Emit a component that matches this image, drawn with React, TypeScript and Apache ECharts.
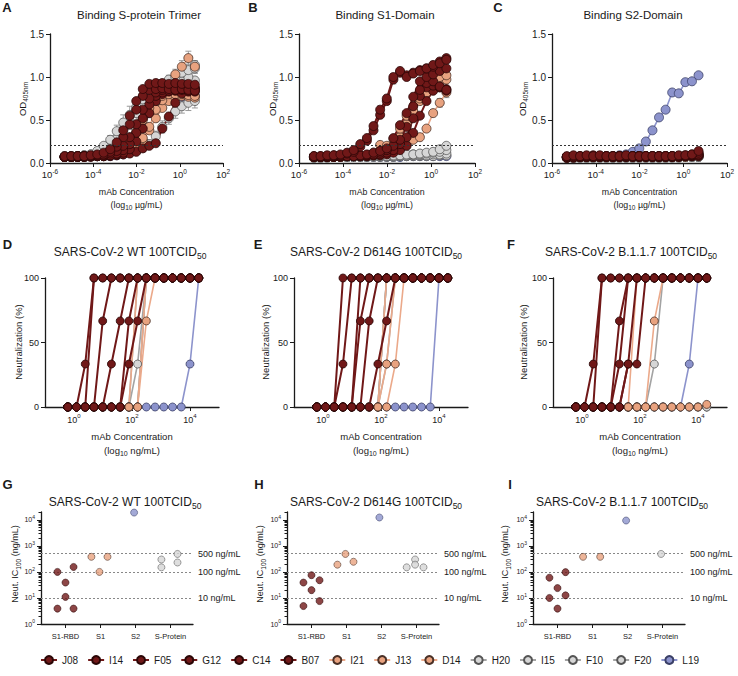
import { useEffect, useRef } from 'react';
import * as echarts from 'echarts';

const FONT = "'Liberation Sans', Arial, Helvetica, sans-serif";
const INK = '#1a1a1a';

const MABS = ['J08', 'I14', 'F05', 'G12', 'C14', 'B07', 'I21', 'J13', 'D14', 'H20', 'I15', 'F10', 'F20', 'L19'];
const MAB_GROUP = ['rbd', 'rbd', 'rbd', 'rbd', 'rbd', 'rbd', 's1', 's1', 's1', 'sp', 'sp', 'sp', 'sp', 's2'];

// binding: µg/mL, 2-fold dilutions
const BIND_CONC = [4.77e-6, 9.54e-6, 1.91e-5, 3.81e-5, 7.63e-5, 1.53e-4, 3.05e-4, 6.1e-4, 1.22e-3, 2.44e-3, 4.88e-3, 9.77e-3, 0.0195, 0.0391, 0.0781, 0.156, 0.3125, 0.625, 1.25, 2.5, 5];
// neutralization: ng/mL
const NEUT_CONC = [0.61, 1.22, 2.44, 4.88, 9.77, 19.5, 39.1, 78.1, 156, 312, 625, 1250, 2500, 5000, 10000, 20000];

const OD_TRIMER = [
  [0.08, 0.08, 0.08, 0.08, 0.09, 0.1, 0.12, 0.16, 0.24, 0.38, 0.55, 0.72, 0.86, 0.92, 0.93, 0.93, 0.92, 0.93, 0.92, 0.92, 0.91],
  [0.07, 0.08, 0.08, 0.08, 0.08, 0.09, 0.1, 0.13, 0.19, 0.3, 0.45, 0.62, 0.78, 0.85, 0.86, 0.87, 0.86, 0.85, 0.86, 0.85, 0.84],
  [0.07, 0.07, 0.08, 0.08, 0.08, 0.08, 0.09, 0.11, 0.14, 0.2, 0.3, 0.45, 0.62, 0.75, 0.82, 0.85, 0.87, 0.88, 0.9, 0.88, 0.87],
  [0.07, 0.07, 0.07, 0.08, 0.08, 0.08, 0.08, 0.09, 0.11, 0.15, 0.22, 0.35, 0.52, 0.68, 0.78, 0.82, 0.84, 0.85, 0.86, 0.86, 0.85],
  [0.07, 0.07, 0.07, 0.07, 0.08, 0.08, 0.08, 0.09, 0.1, 0.12, 0.16, 0.25, 0.4, 0.58, 0.72, 0.8, 0.83, 0.84, 0.85, 0.84, 0.83],
  [0.07, 0.07, 0.07, 0.07, 0.07, 0.08, 0.08, 0.08, 0.09, 0.1, 0.11, 0.13, 0.17, 0.2, 0.23, 0.4, 0.54, 0.7, 0.81, 0.83, 0.87],
  [0.07, 0.07, 0.08, 0.08, 0.08, 0.08, 0.09, 0.1, 0.13, 0.18, 0.25, 0.36, 0.5, 0.64, 0.74, 0.78, 0.8, 0.8, 0.8, 0.79, 0.78],
  [0.07, 0.07, 0.07, 0.08, 0.08, 0.08, 0.08, 0.09, 0.1, 0.12, 0.17, 0.22, 0.29, 0.42, 0.62, 0.73, 0.83, 1.03, 1.12, 1.22, 1.12],
  [0.07, 0.07, 0.07, 0.07, 0.08, 0.08, 0.08, 0.09, 0.1, 0.11, 0.14, 0.18, 0.26, 0.38, 0.52, 0.64, 0.72, 0.76, 0.78, 0.77, 0.76],
  [0.08, 0.08, 0.08, 0.09, 0.1, 0.14, 0.2, 0.27, 0.37, 0.47, 0.56, 0.65, 0.74, 0.82, 0.88, 0.92, 0.97, 1.0, 1.05, 1.08, 1.1],
  [0.08, 0.08, 0.08, 0.09, 0.1, 0.12, 0.16, 0.21, 0.28, 0.38, 0.48, 0.58, 0.68, 0.76, 0.82, 0.86, 0.9, 0.92, 0.95, 1.0, 1.14],
  [0.07, 0.07, 0.08, 0.08, 0.08, 0.09, 0.1, 0.12, 0.16, 0.22, 0.3, 0.4, 0.52, 0.62, 0.7, 0.75, 0.78, 0.8, 0.84, 0.9, 0.96],
  [0.07, 0.07, 0.07, 0.08, 0.08, 0.08, 0.08, 0.09, 0.1, 0.11, 0.13, 0.15, 0.18, 0.22, 0.31, 0.42, 0.52, 0.6, 0.66, 0.7, 0.72],
  [0.07, 0.07, 0.07, 0.07, 0.08, 0.08, 0.08, 0.08, 0.09, 0.1, 0.14, 0.24, 0.42, 0.58, 0.68, 0.73, 0.75, 0.76, 0.77, 0.78, 0.78],
];

const OD_S1 = [
  [0.08, 0.08, 0.09, 0.09, 0.1, 0.12, 0.15, 0.22, 0.29, 0.43, 0.62, 0.75, 1.0, 1.07, 1.0, 1.04, 1.07, 1.1, 1.14, 1.16, 1.2],
  [0.08, 0.08, 0.08, 0.09, 0.09, 0.11, 0.13, 0.19, 0.26, 0.38, 0.56, 0.72, 0.97, 1.05, 1.02, 1.05, 1.08, 1.1, 1.12, 1.18, 1.22],
  [0.07, 0.07, 0.08, 0.08, 0.08, 0.08, 0.08, 0.09, 0.1, 0.12, 0.14, 0.17, 0.29, 0.44, 0.58, 0.77, 0.95, 1.0, 1.03, 1.07, 1.1],
  [0.07, 0.07, 0.07, 0.08, 0.08, 0.08, 0.08, 0.08, 0.09, 0.1, 0.12, 0.15, 0.2, 0.27, 0.42, 0.66, 0.85, 0.93, 0.95, 0.89, 0.85],
  [0.07, 0.07, 0.07, 0.07, 0.08, 0.08, 0.08, 0.08, 0.08, 0.09, 0.1, 0.12, 0.15, 0.22, 0.3, 0.52, 0.78, 0.88, 0.9, 0.88, 0.84],
  [0.07, 0.07, 0.07, 0.07, 0.07, 0.08, 0.08, 0.08, 0.08, 0.09, 0.09, 0.1, 0.12, 0.15, 0.2, 0.35, 0.55, 0.72, 0.84, 0.88, 0.86],
  [0.07, 0.07, 0.07, 0.08, 0.08, 0.08, 0.08, 0.08, 0.09, 0.1, 0.14, 0.2, 0.28, 0.4, 0.55, 0.6, 0.75, 0.9, 0.98, 1.0, 1.02],
  [0.07, 0.07, 0.07, 0.07, 0.08, 0.08, 0.08, 0.08, 0.09, 0.12, 0.21, 0.18, 0.22, 0.3, 0.45, 0.6, 0.72, 0.82, 0.9, 0.95, 0.97],
  [0.07, 0.07, 0.07, 0.07, 0.07, 0.08, 0.08, 0.08, 0.08, 0.09, 0.1, 0.12, 0.15, 0.18, 0.22, 0.27, 0.3, 0.4, 0.58, 0.7, 0.82],
  [0.07, 0.07, 0.07, 0.07, 0.07, 0.07, 0.08, 0.08, 0.08, 0.08, 0.08, 0.08, 0.09, 0.09, 0.1, 0.1, 0.11, 0.12, 0.13, 0.16, 0.2],
  [0.07, 0.07, 0.07, 0.07, 0.07, 0.07, 0.07, 0.08, 0.08, 0.08, 0.08, 0.08, 0.08, 0.09, 0.09, 0.1, 0.1, 0.11, 0.12, 0.13, 0.15],
  [0.06, 0.06, 0.07, 0.07, 0.07, 0.07, 0.07, 0.07, 0.07, 0.08, 0.08, 0.08, 0.08, 0.08, 0.08, 0.09, 0.09, 0.09, 0.1, 0.1, 0.11],
  [0.06, 0.06, 0.06, 0.07, 0.07, 0.07, 0.07, 0.07, 0.07, 0.07, 0.07, 0.07, 0.07, 0.08, 0.08, 0.08, 0.08, 0.08, 0.08, 0.09, 0.09],
  [0.07, 0.07, 0.07, 0.07, 0.07, 0.07, 0.07, 0.07, 0.07, 0.07, 0.07, 0.07, 0.07, 0.07, 0.08, 0.08, 0.08, 0.08, 0.08, 0.08, 0.08],
];

const OD_S2 = [
  [0.08, 0.09, 0.08, 0.09, 0.08, 0.09, 0.08, 0.08, 0.08, 0.09, 0.08, 0.08, 0.08, 0.08, 0.08, 0.08, 0.08, 0.09, 0.09, 0.1, 0.14],
  [0.07, 0.08, 0.08, 0.08, 0.09, 0.08, 0.08, 0.08, 0.08, 0.08, 0.08, 0.08, 0.08, 0.08, 0.08, 0.08, 0.08, 0.08, 0.09, 0.1, 0.12],
  [0.07, 0.07, 0.07, 0.08, 0.08, 0.08, 0.08, 0.08, 0.08, 0.08, 0.08, 0.08, 0.08, 0.08, 0.08, 0.08, 0.08, 0.08, 0.08, 0.09, 0.1],
  [0.07, 0.07, 0.07, 0.07, 0.07, 0.07, 0.07, 0.07, 0.08, 0.08, 0.08, 0.08, 0.08, 0.08, 0.08, 0.08, 0.08, 0.08, 0.08, 0.09, 0.11],
  [0.06, 0.07, 0.07, 0.07, 0.07, 0.07, 0.07, 0.07, 0.07, 0.07, 0.07, 0.07, 0.07, 0.07, 0.07, 0.07, 0.07, 0.08, 0.08, 0.08, 0.09],
  [0.06, 0.06, 0.07, 0.07, 0.07, 0.07, 0.07, 0.07, 0.07, 0.07, 0.07, 0.07, 0.07, 0.07, 0.07, 0.07, 0.07, 0.07, 0.08, 0.08, 0.08],
  [0.07, 0.07, 0.08, 0.08, 0.08, 0.08, 0.08, 0.08, 0.08, 0.08, 0.08, 0.08, 0.08, 0.08, 0.08, 0.08, 0.08, 0.08, 0.08, 0.09, 0.1],
  [0.07, 0.07, 0.07, 0.07, 0.07, 0.07, 0.07, 0.07, 0.07, 0.07, 0.08, 0.08, 0.08, 0.07, 0.07, 0.07, 0.07, 0.08, 0.08, 0.08, 0.09],
  [0.07, 0.07, 0.07, 0.07, 0.07, 0.07, 0.07, 0.07, 0.07, 0.07, 0.07, 0.07, 0.07, 0.07, 0.07, 0.07, 0.07, 0.07, 0.07, 0.08, 0.08],
  [0.07, 0.07, 0.07, 0.07, 0.07, 0.07, 0.07, 0.07, 0.07, 0.07, 0.07, 0.07, 0.07, 0.07, 0.07, 0.07, 0.07, 0.07, 0.07, 0.07, 0.08],
  [0.07, 0.07, 0.07, 0.07, 0.07, 0.07, 0.07, 0.07, 0.07, 0.07, 0.07, 0.07, 0.07, 0.07, 0.07, 0.07, 0.07, 0.07, 0.07, 0.07, 0.07],
  [0.06, 0.06, 0.06, 0.06, 0.06, 0.06, 0.06, 0.06, 0.06, 0.06, 0.06, 0.06, 0.06, 0.06, 0.06, 0.06, 0.07, 0.07, 0.07, 0.07, 0.07],
  [0.06, 0.06, 0.06, 0.06, 0.06, 0.06, 0.06, 0.06, 0.06, 0.06, 0.06, 0.06, 0.06, 0.06, 0.06, 0.06, 0.06, 0.06, 0.07, 0.07, 0.07],
  [0.07, 0.08, 0.07, 0.08, 0.08, 0.08, 0.08, 0.08, 0.09, 0.1, 0.13, 0.17, 0.25, 0.38, 0.53, 0.62, 0.82, 0.81, 0.94, 0.95, 1.02],
];

// standard deviations drawn as error bars (only where the reference shows them clearly)
const SD_TRIMER_H20 = [0, 0, 0, 0, 0.01, 0.02, 0.03, 0.05, 0.07, 0.09, 0.1, 0.09, 0.07, 0.06, 0.05, 0.05, 0.05, 0.05, 0.06, 0.07, 0.06];
const SD_TRIMER_I15 = [0, 0, 0, 0, 0.01, 0.02, 0.03, 0.04, 0.06, 0.08, 0.09, 0.08, 0.07, 0.06, 0.06, 0.07, 0.06, 0.05, 0.06, 0.06, 0.05];
const SD_TRIMER_F20 = [0, 0, 0, 0, 0, 0, 0, 0.01, 0.01, 0.02, 0.03, 0.03, 0.04, 0.05, 0.06, 0.07, 0.07, 0.08, 0.08, 0.09, 0.08];
const SD_TRIMER_J13 = [0, 0, 0, 0, 0, 0, 0, 0.01, 0.01, 0.02, 0.03, 0.03, 0.04, 0.05, 0.05, 0.05, 0.05, 0.06, 0.07, 0.08, 0.06];
const SD_S1_J08 = [0, 0, 0, 0, 0.01, 0.01, 0.02, 0.02, 0.03, 0.03, 0.04, 0.04, 0.04, 0.03, 0.03, 0.03, 0.03, 0.04, 0.04, 0.04, 0.04];
const SD_S1_I14 = [0, 0, 0, 0, 0.01, 0.01, 0.02, 0.02, 0.02, 0.03, 0.04, 0.04, 0.05, 0.04, 0.03, 0.03, 0.03, 0.03, 0.04, 0.04, 0.04];
const SD_S1_D14 = [0, 0, 0, 0, 0, 0, 0, 0, 0, 0, 0.01, 0.01, 0.02, 0.02, 0.02, 0.02, 0.03, 0.03, 0.04, 0.05, 0.06];

const NEUT_WT = [
  [0, 0, 33.3, 100, 100, 100, 100, 100, 100, 100, 100, 100, 100, 100, 100, 100],
  [0, 0, 0, 100, 100, 100, 100, 100, 100, 100, 100, 100, 100, 100, 100, 100],
  [0, 0, 0, 0, 66.7, 100, 100, 100, 100, 100, 100, 100, 100, 100, 100, 100],
  [0, 0, 0, 0, 0, 33.3, 66.7, 100, 100, 100, 100, 100, 100, 100, 100, 100],
  [0, 0, 0, 0, 0, 0, 0, 66.7, 100, 100, 100, 100, 100, 100, 100, 100],
  [0, 0, 0, 0, 0, 0, 0, 33.3, 66.7, 100, 100, 100, 100, 100, 100, 100],
  [0, 0, 0, 0, 0, 0, 0, 0, 100, 100, 100, 100, 100, 100, 100, 100],
  [0, 0, 0, 0, 0, 0, 0, 0, 0, 66.7, 100, 100, 100, 100, 100, 100],
  [0, 0, 0, 0, 0, 0, 0, 0, 0, 100, 100, 100, 100, 100, 100, 100],
  [0, 0, 0, 0, 0, 0, 0, 0, 33.3, 100, 100, 100, 100, 100, 100, 100],
  [0, 0, 0, 0, 0, 0, 0, 0, 100, 100, 100, 100, 100, 100, 100, 100],
  [0, 0, 0, 0, 0, 0, 0, 0, 0, 100, 100, 100, 100, 100, 100, 100],
  [0, 0, 0, 0, 0, 0, 0, 0, 0, 100, 100, 100, 100, 100, 100, 100],
  [0, 0, 0, 0, 0, 0, 0, 0, 0, 0, 0, 0, 0, 0, 33.3, 100],
];

const NEUT_D614G = [
  [0, 0, 0, 100, 100, 100, 100, 100, 100, 100, 100, 100, 100, 100, 100, 100],
  [0, 0, 0, 33.3, 100, 100, 100, 100, 100, 100, 100, 100, 100, 100, 100, 100],
  [0, 0, 0, 0, 0, 66.7, 100, 100, 100, 100, 100, 100, 100, 100, 100, 100],
  [0, 0, 0, 0, 0, 100, 100, 100, 100, 100, 100, 100, 100, 100, 100, 100],
  [0, 0, 0, 0, 0, 0, 66.7, 100, 100, 100, 100, 100, 100, 100, 100, 100],
  [0, 0, 0, 0, 0, 0, 0, 33.3, 66.7, 100, 100, 100, 100, 100, 100, 100],
  [0, 0, 0, 0, 0, 0, 0, 0, 33.3, 100, 100, 100, 100, 100, 100, 100],
  [0, 0, 0, 0, 0, 0, 0, 0, 0, 33.3, 100, 100, 100, 100, 100, 100],
  [0, 0, 0, 0, 0, 0, 0, 0, 100, 100, 100, 100, 100, 100, 100, 100],
  [0, 0, 0, 0, 0, 0, 0, 0, 100, 100, 100, 100, 100, 100, 100, 100],
  [0, 0, 0, 0, 0, 0, 0, 0, 100, 100, 100, 100, 100, 100, 100, 100],
  [0, 0, 0, 0, 0, 0, 0, 0, 33.3, 100, 100, 100, 100, 100, 100, 100],
  [0, 0, 0, 0, 0, 0, 0, 0, 100, 100, 100, 100, 100, 100, 100, 100],
  [0, 0, 0, 0, 0, 0, 0, 0, 0, 0, 0, 0, 0, 0, 100, 100],
];

const NEUT_B117 = [
  [0, 0, 33.3, 100, 100, 100, 100, 100, 100, 100, 100, 100, 100, 100, 100, 100],
  [0, 0, 0, 100, 100, 100, 100, 100, 100, 100, 100, 100, 100, 100, 100, 100],
  [0, 0, 0, 0, 0, 66.7, 100, 100, 100, 100, 100, 100, 100, 100, 100, 100],
  [0, 0, 0, 0, 0, 33.3, 100, 100, 100, 100, 100, 100, 100, 100, 100, 100],
  [0, 0, 0, 0, 0, 0, 33.3, 100, 100, 100, 100, 100, 100, 100, 100, 100],
  [0, 0, 0, 0, 0, 0, 33.3, 33.3, 100, 100, 100, 100, 100, 100, 100, 100],
  [0, 0, 0, 0, 0, 0, 0, 100, 100, 100, 100, 100, 100, 100, 100, 100],
  [0, 0, 0, 0, 0, 0, 0, 0, 0, 66.7, 100, 100, 100, 100, 100, 100],
  [0, 0, 0, 0, 0, 0, 0, 0, 0, 0, 0, 0, 0, 0, 0, 2],
  [0, 0, 0, 0, 0, 0, 0, 0, 0, 33.3, 100, 100, 100, 100, 100, 100],
  [0, 0, 0, 0, 0, 0, 0, 0, 0, 0, 0, 0, 0, 0, 0, 0],
  [0, 0, 0, 0, 0, 0, 0, 0, 0, 0, 0, 0, 0, 0, 0, 0],
  [0, 0, 0, 0, 0, 0, 0, 0, 0, 0, 0, 0, 0, 0, 0, 0],
  [0, 0, 0, 0, 0, 0, 0, 0, 0, 0, 0, 0, 0, 33.3, 100, 100],
];

// IC100 (ng/mL) per epitope group
const IC_CATEGORIES = ['S1-RBD', 'S1', 'S2', 'S-Protein'];
const IC_WT_RBD = [100, 39, 155, 11, 3.9, 3.9];
const IC_WT_S1 = [380, 100, 380];
const IC_WT_S2 = [19000];
const IC_WT_SP = [300, 150, 490, 230];
const IC_D614G_RBD = [39, 75, 48, 20, 4.9, 7.6];
const IC_D614G_S1 = [190, 490, 245];
const IC_D614G_S2 = [12300];
const IC_D614G_SP = [150, 300, 190, 150];
const IC_B117_RBD = [60, 24, 98, 10, 12.6, 3.9];
const IC_B117_S1 = [380, 380];
const IC_B117_S2 = [9400];
const IC_B117_SP = [490];

const REF_LINES = [10, 100, 500];
const REF_LABELS = ['10 ng/mL', '100 ng/mL', '500 ng/mL'];
const OD_CUTOFF = 0.21;

const BIND_TICKS = [1e-6, 1e-4, 1e-2, 1, 100];
const NEUT_TICKS = [1, 100, 10000];
const IC_TICKS = [1, 10, 100, 1000, 10000];
const IC_MINOR = [2, 3, 4, 5, 6, 7, 8, 9, 20, 30, 40, 50, 60, 70, 80, 90, 200, 300, 400, 500, 600, 700, 800, 900, 2000, 3000, 4000, 5000, 6000, 7000, 8000, 9000, 20000];

// layout-only horizontal spread of dots within a category
const JIT_WT = { rbd: [-0.23, 0, 0.23, 0, -0.23, 0.23], s1: [-0.26, -0.03, 0.2], s2: [-0.04], sp: [-0.26, -0.26, 0.2, 0.2] };
const JIT_D614G = { rbd: [-0.23, 0, 0.23, 0, -0.23, 0.23], s1: [-0.26, -0.03, 0.2], s2: [-0.06], sp: [-0.28, -0.04, -0.04, 0.2] };
const JIT_B117 = { rbd: [-0.23, 0, 0.23, -0.23, 0.23, 0], s1: [-0.27, 0.22], s2: [-0.04], sp: [-0.04] };

const FILL: Record<string, string> = { rbd: '#701818', s1: '#E8A27F', sp: '#D6D6D6', s2: '#8C93CC' };
const LINE: Record<string, string> = { rbd: '#701818', s1: '#EBA98A', sp: '#A3A3A3', s2: '#8C93CC' };
const BORDER: Record<string, string> = { rbd: '#2a0606', s1: '#4a3026', sp: '#555555', s2: '#3a3f66' };

const tok = (size: number, extra: any = {}) => ({ fontSize: size, fontFamily: FONT, color: INK, ...extra });
const subRich = (main: number, sub: number) => ({
  a: tok(main, { lineHeight: main + 4 }),
  b: tok(sub, { lineHeight: sub, verticalAlign: 'bottom' }),
});
const supRich = (main: number, sup: number) => ({
  a: tok(main, { lineHeight: main + 4 }),
  b: tok(sup, { lineHeight: sup, verticalAlign: 'top' }),
});

function gText(x: number, y: number, text: string, size: number, opt: any = {}) {
  return {
    type: 'text',
    x,
    y,
    rotation: opt.rot || 0,
    silent: true,
    z: 100,
    style: {
      text,
      fill: INK,
      font: `${opt.bold ? 'bold ' : ''}${size}px ${FONT}`,
      align: 'center',
      verticalAlign: 'middle',
      textAlign: 'center',
      textVerticalAlign: 'middle',
      rich: opt.rich,
    },
  };
}

const axisLine = { show: true, onZero: false, lineStyle: { color: INK, width: 1.3 } };
const tickStyle = { color: INK, width: 1 };

function errorBarSeries(gi: number, means: number[], sds: number[]) {
  return {
    type: 'custom', xAxisIndex: gi, yAxisIndex: gi, silent: true, z: 1, clip: false,
    data: BIND_CONC.map((c, i) => [c, means[i], sds[i]]).filter((d) => d[2] > 0),
    encode: { x: 0, y: 1 },
    renderItem: (params: any, api: any) => {
      const x = api.value(0);
      const y = api.value(1);
      const sd = api.value(2);
      const top = api.coord([x, y + sd]);
      const bot = api.coord([x, y - sd]);
      const st = { stroke: '#9a9a9a', lineWidth: 1 };
      return {
        type: 'group',
        children: [
          { type: 'line', shape: { x1: top[0], y1: top[1], x2: bot[0], y2: bot[1] }, style: st },
          { type: 'line', shape: { x1: top[0] - 3, y1: top[1], x2: top[0] + 3, y2: top[1] }, style: st },
          { type: 'line', shape: { x1: bot[0] - 3, y1: bot[1], x2: bot[0] + 3, y2: bot[1] }, style: st },
        ],
      };
    },
  };
}

function buildOption() {
  const grids = [
    { left: 50, top: 34, width: 173, height: 129 },
    { left: 299, top: 34, width: 176, height: 129 },
    { left: 552, top: 34, width: 175, height: 129 },
    { left: 45, top: 278, width: 174, height: 129 },
    { left: 294, top: 278, width: 174, height: 129 },
    { left: 553, top: 278, width: 174, height: 129 },
    { left: 41, top: 512, width: 152, height: 112 },
    { left: 287, top: 512, width: 152, height: 112 },
    { left: 533, top: 512, width: 152, height: 112 },
  ].map((g) => ({ ...g, containLabel: false, outerBoundsMode: 'none' }));

  const xAxis: any[] = [];
  const yAxis: any[] = [];
  const expFmt = (v: number) => `{a|10}{b|${Math.round(Math.log10(v))}}`;

  for (let i = 0; i < 3; i++) {
    xAxis.push({
      type: 'log', gridIndex: i, min: 1e-6, max: 100, axisLine,
      axisTick: { show: true, length: 4, lineStyle: tickStyle, customValues: BIND_TICKS },
      axisLabel: { customValues: BIND_TICKS, margin: 5, formatter: expFmt, rich: supRich(9.5, 6.5) },
      splitLine: { show: false }, minorTick: { show: false },
    });
    yAxis.push({
      type: 'value', gridIndex: i, min: 0, max: 1.5, interval: 0.5, axisLine,
      axisTick: { show: true, length: 4, lineStyle: tickStyle },
      axisLabel: { margin: 6, fontSize: 10, fontFamily: FONT, color: INK, formatter: (v: number) => v.toFixed(1) },
      splitLine: { show: false },
    });
  }
  for (let i = 3; i < 6; i++) {
    xAxis.push({
      type: 'log', gridIndex: i, min: 0.1, max: 100000, axisLine,
      axisTick: { show: true, length: 4, lineStyle: tickStyle, customValues: NEUT_TICKS },
      axisLabel: { customValues: NEUT_TICKS, margin: 6, formatter: expFmt, rich: supRich(9, 6) },
      splitLine: { show: false }, minorTick: { show: false },
    });
    yAxis.push({
      type: 'value', gridIndex: i, min: 0, max: 100, interval: 50, axisLine,
      axisTick: { show: true, length: 4, lineStyle: tickStyle },
      axisLabel: { margin: 6, fontSize: 9, fontFamily: FONT, color: INK },
      splitLine: { show: false },
    });
  }
  for (let i = 6; i < 9; i++) {
    xAxis.push({
      type: 'value', gridIndex: i, min: 0.3, max: 4.643, axisLine,
      axisTick: { show: true, length: 4, lineStyle: tickStyle, customValues: [1, 2, 3, 4] },
      axisLabel: {
        customValues: [1, 2, 3, 4], margin: 8, fontSize: 7.5, fontFamily: FONT, color: INK,
        formatter: (v: number) => IC_CATEGORIES[Math.round(v) - 1] || '',
      },
      splitLine: { show: false },
    });
    yAxis.push({
      type: 'log', gridIndex: i, min: 1, max: 20000, position: 'left', axisLine,
      axisTick: { show: true, length: 4, lineStyle: tickStyle, customValues: IC_TICKS },
      axisLabel: { customValues: IC_TICKS, margin: 6, formatter: expFmt, rich: supRich(7, 5) },
      splitLine: { show: false }, minorTick: { show: false },
    });
  }
  for (let i = 6; i < 9; i++) {
    yAxis.push({
      type: 'log', gridIndex: i, min: 1, max: 20000, position: 'left', offset: 0,
      axisLine: { show: false },
      axisTick: { show: true, length: 2.5, lineStyle: tickStyle, customValues: IC_MINOR },
      axisLabel: { show: false },
      splitLine: { show: false }, minorTick: { show: false },
    });
  }

  const series: any[] = [];

  series.push(errorBarSeries(0, OD_TRIMER[9], SD_TRIMER_H20));
  series.push(errorBarSeries(0, OD_TRIMER[10], SD_TRIMER_I15));
  series.push(errorBarSeries(0, OD_TRIMER[12], SD_TRIMER_F20));
  series.push(errorBarSeries(0, OD_TRIMER[7], SD_TRIMER_J13));
  series.push(errorBarSeries(1, OD_S1[0], SD_S1_J08));
  series.push(errorBarSeries(1, OD_S1[1], SD_S1_I14));
  series.push(errorBarSeries(1, OD_S1[8], SD_S1_D14));

  const lineSets = [
    { sets: [OD_TRIMER, OD_S1, OD_S2], conc: BIND_CONC, base: 0, size: 9, cutoff: true },
    { sets: [NEUT_WT, NEUT_D614G, NEUT_B117], conc: NEUT_CONC, base: 3, size: 8, cutoff: false },
  ];
  lineSets.forEach(({ sets, conc, base, size, cutoff }) => {
    sets.forEach((set, k) => {
      const gi = base + k;
      for (let m = MABS.length - 1; m >= 0; m--) {
        const g = MAB_GROUP[m];
        const s: any = {
          type: 'line', name: MABS[m], xAxisIndex: gi, yAxisIndex: gi,
          data: conc.map((c, i) => [c, set[m][i]]),
          symbol: 'circle', symbolSize: size, clip: false, silent: true,
          lineStyle: { color: LINE[g], width: g === 'rbd' ? 2 : 1.6 },
          itemStyle: { color: FILL[g], borderColor: BORDER[g], borderWidth: 0.8 },
          emphasis: { disabled: true },
        };
        if (cutoff && m === MABS.length - 1) {
          s.markLine = {
            silent: true, symbol: 'none', label: { show: false },
            lineStyle: { type: [2, 2], color: '#333', width: 1 },
            data: [{ yAxis: OD_CUTOFF }],
          };
        }
        series.push(s);
      }
    });
  });

  const icPanels = [
    { rbd: IC_WT_RBD, s1: IC_WT_S1, s2: IC_WT_S2, sp: IC_WT_SP, jit: JIT_WT },
    { rbd: IC_D614G_RBD, s1: IC_D614G_S1, s2: IC_D614G_S2, sp: IC_D614G_SP, jit: JIT_D614G },
    { rbd: IC_B117_RBD, s1: IC_B117_S1, s2: IC_B117_S2, sp: IC_B117_SP, jit: JIT_B117 },
  ];
  icPanels.forEach((p: any, k) => {
    const gi = 6 + k;
    ['rbd', 's1', 's2', 'sp'].forEach((g, ci) => {
      const s: any = {
        type: 'scatter', xAxisIndex: gi, yAxisIndex: gi, silent: true,
        data: p[g].map((v: number, j: number) => [ci + 1 + p.jit[g][j], v]),
        symbol: 'circle', symbolSize: 7,
        itemStyle: { color: FILL[g], borderColor: BORDER[g], borderWidth: 0.7 },
        emphasis: { disabled: true }, z: 3,
      };
      if (ci === 0) {
        s.markLine = {
          silent: true, symbol: 'none', z: 1,
          lineStyle: { type: [2, 2], color: '#888', width: 1.1 },
          label: { show: true, position: 'end', distance: 5, fontSize: 9, fontFamily: FONT, color: INK },
          data: REF_LINES.map((v, j) => ({ yAxis: v, label: { formatter: REF_LABELS[j] } })),
        };
      }
      series.push(s);
    });
  });

  const graphic: any[] = [];
  [['A', 7, 7], ['B', 253, 7], ['C', 498, 7], ['D', 7.5, 244], ['E', 258, 244], ['F', 511, 244], ['G', 7.5, 484], ['H', 259, 484], ['I', 510, 484]]
    .forEach(([t, x, y]) => graphic.push(gText(x as number, y as number, t as string, 13, { bold: true })));

  graphic.push(gText(139, 15, 'Binding S-protein Trimer', 11.5));
  graphic.push(gText(385, 15, 'Binding S1-Domain', 11.5));
  graphic.push(gText(633, 15, 'Binding S2-Domain', 11.5));
  const tRich = subRich(12, 8.5);
  [[130, 252, 'WT', 'D'], [376, 252, 'D614G', 'E'], [631, 252, 'B.1.1.7', 'F'], [125, 502, 'WT', 'G'], [376, 502, 'D614G', 'H'], [622, 502, 'B.1.1.7', 'I']]
    .forEach(([x, y, v]) => graphic.push(gText(x as number, y as number, `{a|SARS-CoV-2 ${v} 100TCID}{b|50}`, 12, { rich: tRich })));

  const nameRich1 = subRich(8.8, 6.5);
  [136.5, 387, 639.5].forEach((x) => {
    graphic.push(gText(x, 192, 'mAb Concentration', 8.8));
    graphic.push(gText(x, 205, '{a|(log}{b|10}{a| µg/mL)}', 8.8, { rich: nameRich1 }));
  });
  const nameRich2 = subRich(9.5, 7);
  [132, 381, 640].forEach((x) => {
    graphic.push(gText(x, 436, 'mAb Concentration', 9.5));
    graphic.push(gText(x, 450, '{a|(log}{b|10}{a| ng/mL)}', 9.5, { rich: nameRich2 }));
  });
  const odRich = subRich(9.5, 6.5);
  [22, 272, 522].forEach((x) => graphic.push(gText(x, 99, '{a|OD}{b|405nm}', 9.5, { rich: odRich, rot: Math.PI / 2 })));
  [18, 265, 523].forEach((x) => graphic.push(gText(x, 342, 'Neutralization (%)', 9.5, { rot: Math.PI / 2 })));
  const icRich = subRich(9, 6.5);
  [15, 260, 505].forEach((x) => graphic.push(gText(x, 564, '{a|Neut. IC}{b|100}{a| (ng/mL)}', 9, { rich: icRich, rot: Math.PI / 2 })));

  return {
    animation: false,
    backgroundColor: '#ffffff',
    grid: grids,
    xAxis,
    yAxis,
    series,
    graphic,
    legend: {
      data: MABS, left: 40, top: 655, width: 698, padding: 0,
      itemWidth: 16, itemHeight: 10, itemGap: 9,
      selectedMode: false,
      textStyle: { fontSize: 10, fontFamily: FONT, color: INK },
    },
  };
}

export default function App() {
  const ref = useRef<HTMLDivElement>(null);
  useEffect(() => {
    if (!ref.current) return;
    const chart = echarts.init(ref.current, undefined, { renderer: 'svg' });
    chart.setOption(buildOption() as any);
    return () => chart.dispose();
  }, []);
  return (
    <div
      ref={ref}
      style={{ position: 'absolute', left: 0, top: 0, width: 738, height: 676, background: '#fff' }}
    />
  );
}
